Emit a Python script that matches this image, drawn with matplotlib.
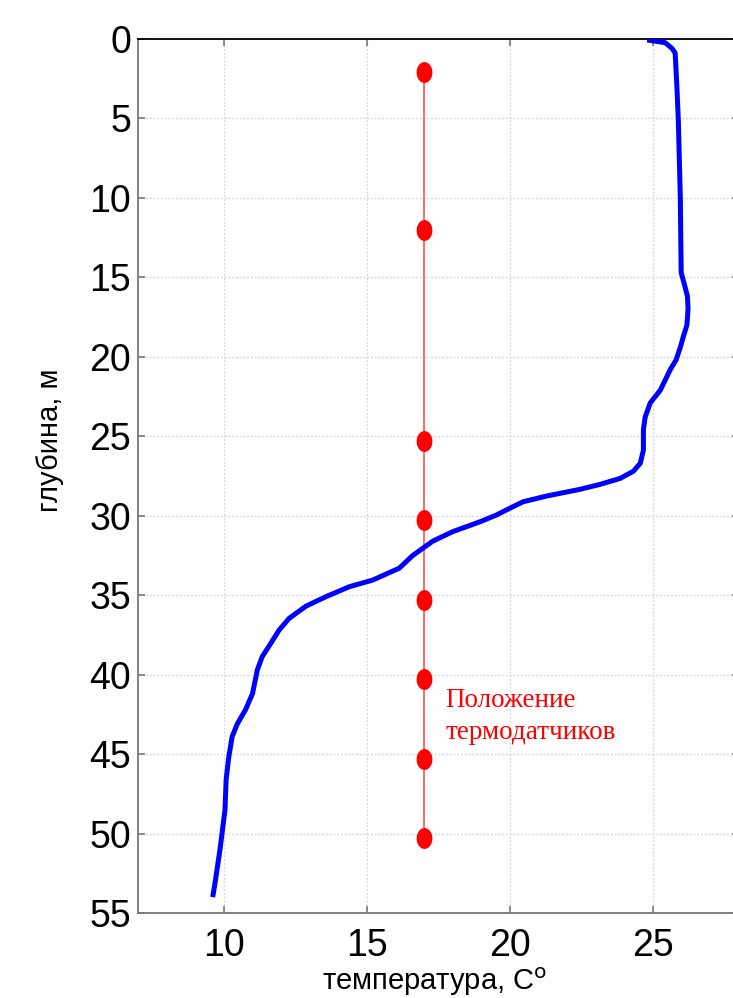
import numpy as np
import matplotlib as mpl
mpl.use('Agg')
import matplotlib.pyplot as plt
from matplotlib.path import Path
from matplotlib import font_manager

# temperature profile (deg C) vs depth (m)
temp = [24.79, 25.42, 25.66, 25.77, 25.83, 25.88, 25.95, 25.98, 26.1, 26.2,
        26.22, 26.18, 26.06, 25.95, 25.8, 25.6, 25.25, 24.9, 24.72, 24.66,
        24.66, 24.55, 24.31, 23.85, 23.14, 22.44, 21.28, 20.46, 19.99, 19.52,
        18.95, 18.0, 17.3, 16.6, 16.13, 15.2, 14.38, 13.56, 12.86, 12.28,
        11.93, 11.64, 11.34, 11.17, 11.0, 10.76, 10.47, 10.29, 10.17, 10.08,
        10.04, 9.88, 9.71, 9.61]
depth = [0.06, 0.23, 0.59, 0.88, 3.0, 5.1, 10.0, 14.7, 15.5, 16.2,
         17.0, 18.0, 18.7, 19.4, 20.2, 20.8, 22.1, 22.9, 23.8, 24.6,
         25.87, 26.7, 27.2, 27.65, 28.03, 28.34, 28.76, 29.12, 29.53, 29.96,
         30.38, 31.0, 31.6, 32.5, 33.3, 34.05, 34.47, 35.1, 35.7, 36.46,
         37.2, 38.03, 38.87, 39.7, 41.2, 42.2, 43.1, 43.9, 45.2, 46.6,
         48.5, 50.8, 52.9, 54.0]

# thermistor chain
sensor_temp = 17
sensor_depth = [2.1, 12.0, 25.3, 30.3, 35.3, 40.3, 45.3, 50.3]

yticks = np.arange(0, 60, 5)
xticks = [10, 15, 20, 25]

names = {f.name for f in font_manager.fontManager.ttflist}
tickfont = 'Liberation Sans Narrow' if 'Liberation Sans Narrow' in names else 'Liberation Sans'

fig = plt.figure(figsize=(7.33, 9.98), dpi=100)
ax = fig.add_axes([0.18827, 0.08517, 0.8199, 0.87575])

ax.plot(temp, depth, color='#0000ff', lw=3.6, solid_joinstyle='round',
        solid_capstyle='butt', zorder=3)

# slightly tall elliptic marker
t = np.linspace(0, 2*np.pi, 60)
ell = Path(np.column_stack([0.74*np.cos(t), np.sin(t)]))
ax.plot([sensor_temp]*len(sensor_depth), sensor_depth, color='#ff5050', lw=1.2, zorder=2)
ax.plot([sensor_temp]*len(sensor_depth), sensor_depth, ls='none', marker=ell,
        ms=14, color='#ff0000', mec='#ff0000', zorder=4)
ax.text(17.75, 44.05, 'Положение\nтермодатчиков', color='#ff0000', fontsize=19.5,
        family='Liberation Serif', linespacing=1.35, va='baseline', ha='left')

ax.set_xlim(7, 28)
ax.set_ylim(55, 0)
ax.set_xticks(xticks)
ax.set_yticks(yticks)
ax.grid(True, ls=(0, (1.5, 1.5)), color='#d4d4d4', lw=0.9)
ax.set_axisbelow(True)
ax.tick_params(direction='in', length=5, width=1.2, color='#777777',
               top=True, right=True, labelsize=27)
ax.tick_params(axis='y', pad=5)
ax.tick_params(axis='x', pad=11)
for lab in ax.get_xticklabels() + ax.get_yticklabels():
    lab.set_family(tickfont)
for s in ['left', 'bottom', 'right']:
    ax.spines[s].set_color('#777777')
    ax.spines[s].set_linewidth(1.3)
ax.spines['top'].set_color('black')
ax.spines['top'].set_linewidth(1.3)

fig.text(50/733, 1 - 440/998, 'глубина, м', rotation=90, ha='center', va='center',
         fontsize=21, family='Liberation Sans')
fig.text(435/733, 0.008, 'температура, C$^{\\mathrm{o}}$', ha='center', va='baseline',
         fontsize=21, family='Liberation Sans')

fig.savefig('out.png', dpi=100)
